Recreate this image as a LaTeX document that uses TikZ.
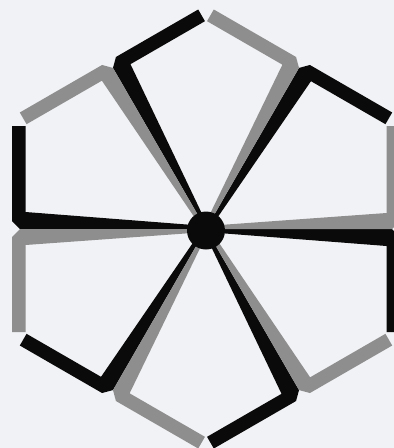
\documentclass[tikz,border=0pt]{standalone}
\definecolor{bg}{RGB}{241,242,245}
\definecolor{ink}{RGB}{10,10,10}
\definecolor{ash}{RGB}{142,142,142}
\tikzset{
  blackL/.style={fill=ink},
  grayL/.style={fill=ash},
  hub/.style={fill=ink}
}
\begin{document}
\begin{tikzpicture}[x=1pt,y=1pt]
\fill[bg] (0,0) rectangle (394,-448);
\clip (0,0) rectangle (394,-448);
\begin{scope}[shift={(206,-229)}]
  \foreach \k in {0,...,5}{
    \begin{scope}[rotate=60*\k]
      \fill[blackL] (0,0) -- (186,0) -- (194,-8) -- (194,-103) -- (180.5,-103) -- (180.5,-17) -- (0,-3) -- cycle;
      \fill[grayL] (0,0) -- (186,0) -- (194,8) -- (194,103) -- (180.5,103) -- (180.5,16) -- (0,3) -- cycle;
    \end{scope}
  }
\end{scope}
\fill[hub] (206,-230.5) circle (19);
\end{tikzpicture}
\end{document}
